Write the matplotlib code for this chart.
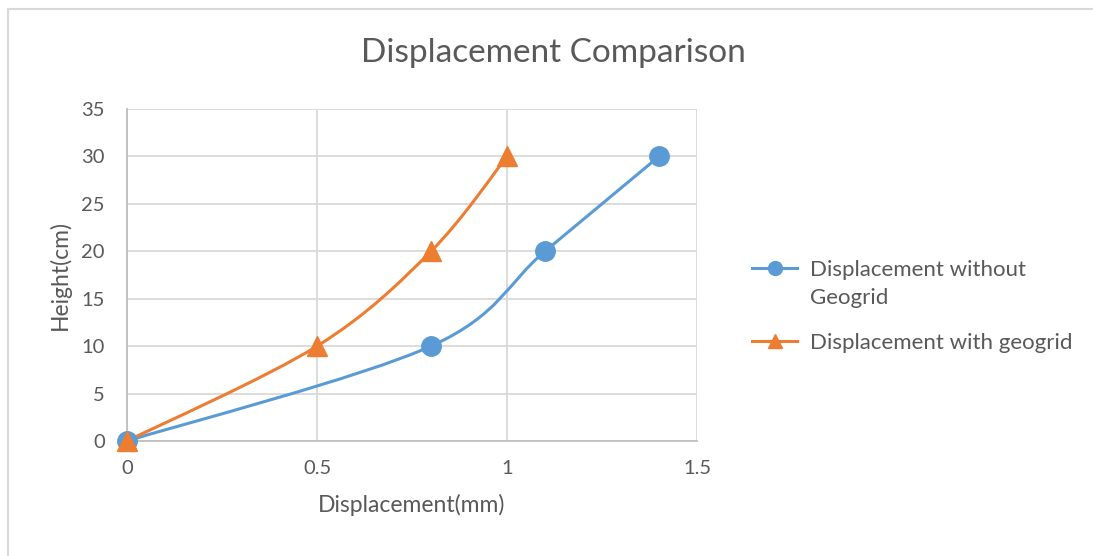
import numpy as np
import matplotlib.pyplot as plt
from matplotlib.path import Path
from matplotlib.patches import PathPatch, Rectangle
from matplotlib.lines import Line2D

plt.rcParams['font.family'] = ['Lato', 'DejaVu Sans']

# displacement (mm) vs height (cm)
x_without = [0, 0.8, 1.1, 1.4]
y_without = [0, 10, 20, 30]
x_with = [0, 0.5, 0.8, 1.0]
y_with = [0, 10, 20, 30]

labels = [['Displacement without', 'Geogrid'], ['Displacement with geogrid']]
BLUE = '#5B9BD5'
ORANGE = '#ED7D31'
TEXT = '#595959'
GRID = '#D9D9D9'
W, H = 1093, 556


def smooth_path(xs, ys):
    # excel-like smoothed line: cubic bezier with catmull-rom style handles
    p = np.column_stack([xs, ys]).astype(float)
    n = len(p)
    verts = [p[0]]
    codes = [Path.MOVETO]
    for i in range(n - 1):
        p0 = p[i - 1] if i > 0 else p[i]
        p1 = p[i]
        p2 = p[i + 1]
        p3 = p[i + 2] if i + 2 < n else p[i + 1]
        c1 = p1 + (p2 - p0) / 6.0
        c2 = p2 - (p3 - p1) / 6.0
        verts += [c1, c2, p2]
        codes += [Path.CURVE4] * 3
    return Path(verts, codes)


def fx(px):
    return px / W


def fy(py):
    return 1 - py / H


fig = plt.figure(figsize=(W / 100, H / 100), dpi=100)
fig.patches.append(Rectangle((fx(8), -0.1), 1.2, fy(9) + 0.1,
                             transform=fig.transFigure, fill=False,
                             edgecolor='#D9D9D9', lw=1.5))

ax = fig.add_axes([fx(127), fy(441), 570 / W, 332 / H])

# smoothed lines, drawn in data coords
for xs, ys, c in [(x_without, y_without, BLUE), (x_with, y_with, ORANGE)]:
    ax.add_patch(PathPatch(smooth_path(xs, ys), fill=False, edgecolor=c,
                           lw=2.2, capstyle='round', zorder=3))

ax.plot(x_without, y_without, 'o', color=BLUE, ms=14, zorder=4, clip_on=False)
ax.plot(x_with, y_with, '^', color=ORANGE, ms=14, zorder=5, clip_on=False)

ax.set_xlim(0, 1.5)
ax.set_ylim(0, 35)
ax.set_xticks([0, 0.5, 1, 1.5])
ax.set_xticklabels(['0', '0.5', '1', '1.5'])
ax.set_yticks(range(0, 36, 5))
ax.grid(True, color=GRID, lw=1.3)
ax.set_axisbelow(True)
for s in ['top', 'right']:
    ax.spines[s].set_visible(False)
for s in ['left', 'bottom']:
    ax.spines[s].set_color('#BFBFBF')
    ax.spines[s].set_linewidth(1.3)
ax.tick_params(length=0, labelsize=14.5, colors=TEXT)
ax.tick_params(axis='x', pad=14)
ax.tick_params(axis='y', pad=16)

fig.text(fx(412), fy(505), 'Displacement(mm)', fontsize=16.5, color=TEXT,
         ha='center', va='center')
fig.text(fx(60), fy(275), 'Height(cm)', fontsize=16.5, color=TEXT,
         ha='center', va='center', rotation=90)
fig.text(fx(553), fy(53), 'Displacement Comparison', fontsize=24,
         color=TEXT, ha='center', va='center')

# legend drawn by hand so the marker sits on the first text line
legend_rows = [(268, BLUE, 'o'), (341, ORANGE, '^')]
for (row_y, c, m), lines in zip(legend_rows, labels):
    fig.add_artist(Line2D([fx(752), fx(797)], [fy(row_y), fy(row_y)],
                          transform=fig.transFigure, color=c, lw=2.2))
    fig.add_artist(Line2D([fx(775)], [fy(row_y)], transform=fig.transFigure,
                          color=c, marker=m, ms=10))
    for k, txt in enumerate(lines):
        fig.text(fx(810), fy(row_y + 28 * k), txt, fontsize=16, color=TEXT,
                 ha='left', va='center_baseline')

fig.savefig('out.png', dpi=100)
